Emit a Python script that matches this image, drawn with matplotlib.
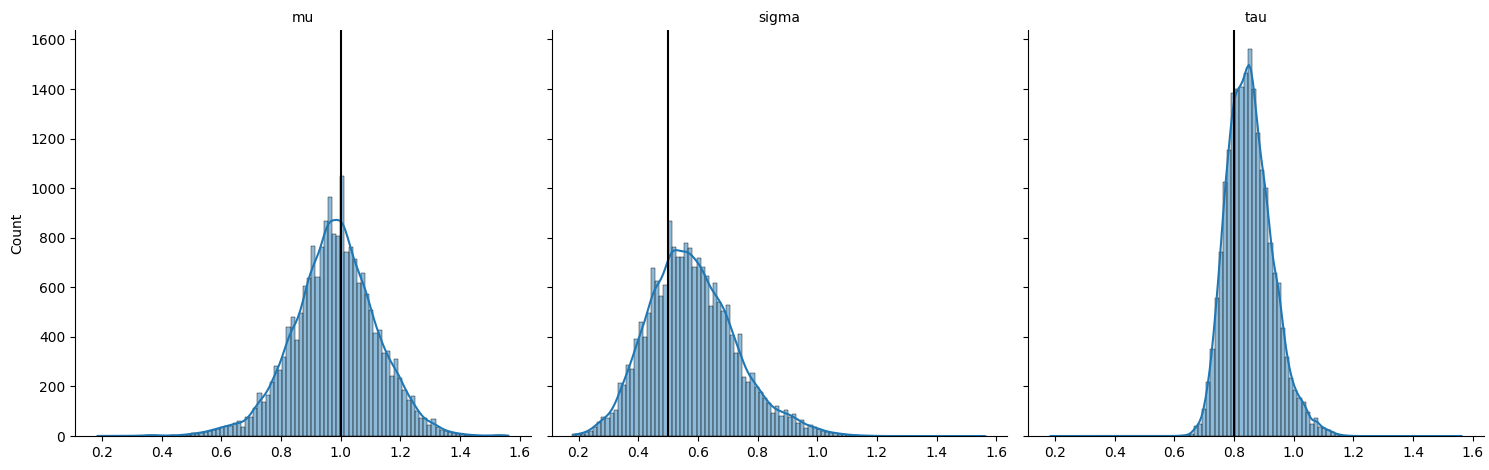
import numpy as np
import pandas as pd
import matplotlib
matplotlib.use("Agg")
import matplotlib.pyplot as plt
import seaborn as sns

# shared histogram bins (100 bins over the pooled sample range)
bin_lo = 0.179
bin_hi = 1.568
n_bins = 100

params = ["mu", "sigma", "tau"]
true_values = [1.0, 0.5, 0.8]

mu_counts = [
    1, 0, 0, 1, 0, 0, 1, 0, 1, 1, 1, 2, 3, 5, 3, 2, 1, 2, 3, 2,
    4, 5, 6, 12, 10, 14, 16, 22, 26, 30, 36, 40, 42, 52, 60, 35, 75, 78, 112, 172,
    138, 165, 219, 282, 266, 317, 441, 481, 387, 495, 605, 636, 766, 643, 761, 867, 965, 815, 809, 1049,
    743, 761, 713, 618, 656, 575, 508, 417, 427, 336, 343, 242, 309, 233, 186, 145, 160, 102, 71, 71,
    44, 67, 38, 24, 22, 17, 12, 10, 8, 6, 4, 3, 2, 2, 1, 2, 3, 5, 3, 1,
]

sigma_counts = [
    7, 8, 10, 15, 22, 38, 58, 78, 71, 94, 105, 212, 206, 286, 270, 391, 461, 400, 495, 679,
    626, 566, 609, 867, 763, 723, 723, 780, 757, 683, 717, 683, 645, 526, 616, 542, 505, 528, 407, 333,
    411, 239, 219, 255, 199, 179, 152, 132, 94, 121, 81, 105, 78, 89, 54, 65, 31, 44, 38, 28,
    22, 17, 14, 12, 10, 7, 5, 4, 3, 2, 2, 1, 1, 0, 0, 0, 0, 0, 0, 0,
    0, 0, 0, 0, 0, 0, 0, 0, 0, 0, 0, 0, 0, 0, 0, 0, 0, 0, 0, 0,
]

tau_counts = [
    0, 0, 0, 0, 0, 0, 0, 0, 0, 0, 0, 0, 0, 0, 0, 0, 0, 0, 0, 0,
    0, 0, 0, 0, 0, 0, 0, 0, 0, 0, 0, 1, 2, 4, 10, 40, 48, 109, 219, 350,
    558, 743, 1026, 1154, 1385, 1400, 1410, 1463, 1560, 1402, 1221, 1073, 999, 777, 656, 618, 434, 317, 233, 186,
    152, 138, 98, 48, 74, 38, 31, 24, 15, 8, 4, 2, 1, 0, 0, 0, 0, 0, 0, 0,
    0, 0, 0, 0, 0, 0, 0, 0, 0, 0, 0, 0, 0, 0, 0, 0, 0, 0, 0, 0,
]

edges = np.linspace(bin_lo, bin_hi, n_bins + 1)
centers = (edges[:-1] + edges[1:]) / 2

fig, axes = plt.subplots(1, 3, figsize=(14.89, 4.70), sharex=True, sharey=True)
fig.subplots_adjust(left=0.0504, right=0.9966, bottom=0.0723, top=0.936, wspace=0.0454)

for ax, name, counts, tv in zip(axes, params, [mu_counts, sigma_counts, tau_counts], true_values):
    w = np.array(counts, dtype=float)
    # binned weights give a tiny effective n; rescale so the kde bandwidth
    # matches what Scott's rule gives on the raw samples
    n_eff = w.sum() ** 2 / (w ** 2).sum()
    bw = (n_eff / w.sum()) ** 0.2
    df = pd.DataFrame({"value": centers, "count": w})
    sns.histplot(data=df, x="value", weights="count", bins=n_bins,
                 binrange=(bin_lo, bin_hi), kde=True, kde_kws={"bw_adjust": bw}, ax=ax)
    ax.axvline(tv, color="black")
    ax.set_title(name, fontsize=10)
    ax.set_xlabel("")
    ax.set_ylabel("")

axes[0].set_ylabel("Count")
sns.despine(fig=fig)

fig.savefig("out.png", dpi=100)
